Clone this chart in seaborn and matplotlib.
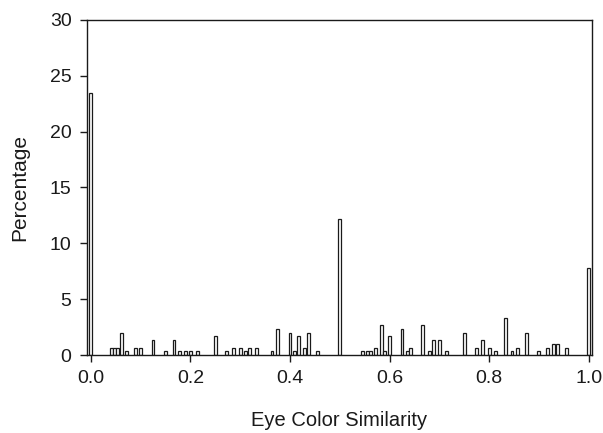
import numpy as np
import matplotlib
matplotlib.use("Agg")
import matplotlib.pyplot as plt
import seaborn as sns

similarity = [
    0.0, 0.042, 0.048, 0.054, 0.0625, 0.071, 0.09, 0.1, 0.125, 0.15,
    0.167, 0.179, 0.19, 0.2, 0.214, 0.25, 0.273, 0.286, 0.3, 0.31,
    0.318, 0.333, 0.364, 0.375, 0.4, 0.409, 0.417, 0.429, 0.438, 0.455,
    0.5, 0.545, 0.556, 0.562, 0.571, 0.583, 0.59, 0.6, 0.625, 0.636,
    0.643, 0.667, 0.68, 0.688, 0.7, 0.714, 0.75, 0.775, 0.786, 0.8,
    0.812, 0.833, 0.846, 0.857, 0.875, 0.9, 0.917, 0.929, 0.938, 0.955,
    1.0,
]
percentage = [
    23.5, 0.67, 0.67, 0.67, 2.0, 0.33, 0.67, 0.67, 1.33, 0.33,
    1.33, 0.33, 0.33, 0.33, 0.33, 1.67, 0.33, 0.67, 0.67, 0.33,
    0.67, 0.67, 0.33, 2.33, 2.0, 0.33, 1.67, 0.67, 2.0, 0.33,
    12.2, 0.33, 0.33, 0.33, 0.67, 2.67, 0.33, 1.67, 2.33, 0.33,
    0.67, 2.67, 0.33, 1.33, 1.33, 0.33, 2.0, 0.67, 1.33, 0.67,
    0.33, 3.33, 0.33, 0.67, 2.0, 0.33, 0.67, 1.0, 1.0, 0.67,
    7.8,
]
x_ticks = [0.0, 0.2, 0.4, 0.6, 0.8, 1.0]
y_ticks = [0, 5, 10, 15, 20, 25, 30]


def plot():
    sns.set_style("ticks")
    plt.rcParams["font.family"] = ["Liberation Sans", "DejaVu Sans"]

    fig = plt.figure(figsize=(6.03, 4.33), dpi=100)
    ax = fig.add_axes([0.144, 0.180, 0.838, 0.774])

    # bar width in data units, converted to seaborn's native-scale multiplier
    bar_w = 0.0058
    min_gap = np.min(np.diff(np.sort(similarity)))

    sns.barplot(
        x=similarity,
        y=percentage,
        native_scale=True,
        orient="x",
        width=bar_w / min_gap,
        errorbar=None,
        color="white",
        edgecolor="#1a1a1a",
        linewidth=0.9,
        ax=ax,
    )

    ax.set_xlim(-0.008, 1.007)
    ax.set_ylim(0, 30)
    ax.set_xticks(x_ticks)
    ax.set_xticklabels([f"{t:.1f}" for t in x_ticks])
    ax.set_yticks(y_ticks)

    for side in ["top", "right", "left", "bottom"]:
        ax.spines[side].set_visible(True)
        ax.spines[side].set_color("#1a1a1a")
        ax.spines[side].set_linewidth(1.0)

    ax.tick_params(
        axis="both",
        direction="out",
        length=5,
        width=1,
        color="#1a1a1a",
        labelsize=14,
        labelcolor="#1a1a1a",
    )
    ax.tick_params(axis="x", pad=6)
    ax.tick_params(axis="y", pad=6)

    ax.set_xlabel("Eye Color Similarity", fontsize=14.5, color="#1a1a1a", labelpad=17)
    ax.set_ylabel("Percentage", fontsize=15, color="#1a1a1a", labelpad=15)

    fig.savefig("out.png", dpi=100)


if __name__ == "__main__":
    plot()
